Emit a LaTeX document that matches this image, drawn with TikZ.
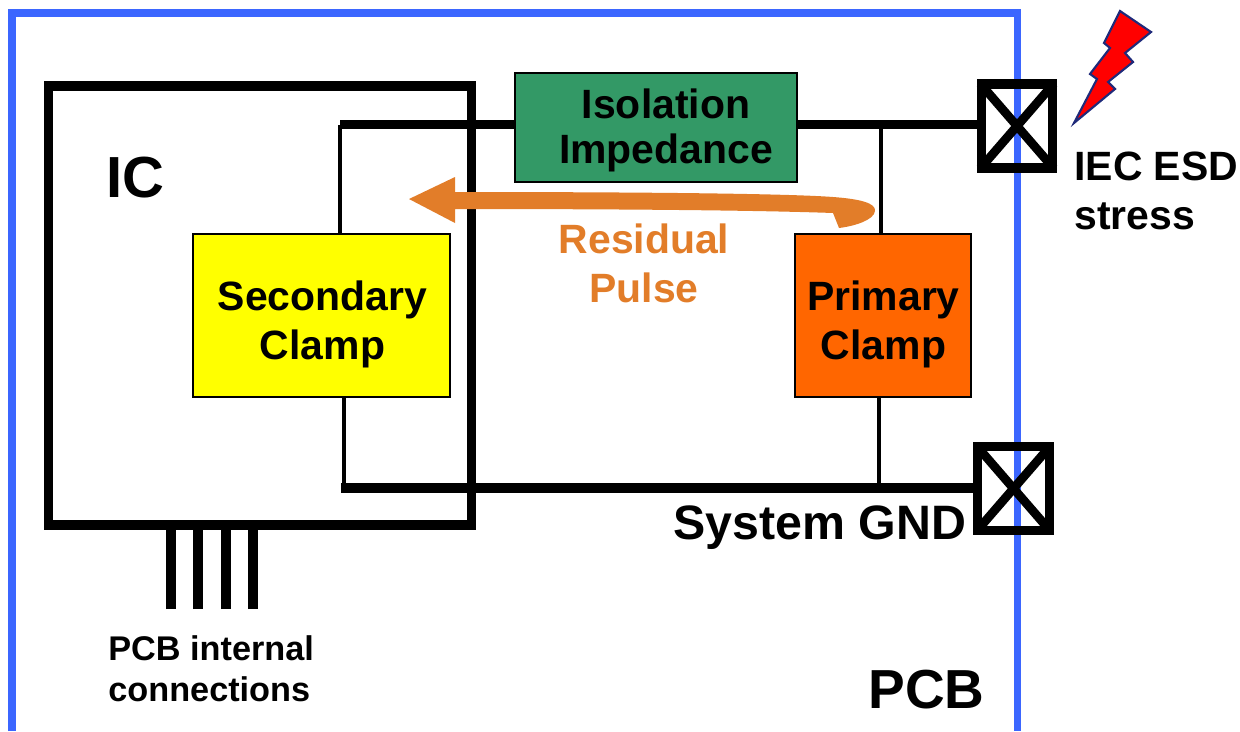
\documentclass[tikz,border=0pt]{standalone}
\usepackage{fontspec}
\setmainfont{Liberation Sans}
\usepackage{tikz}
\definecolor{pcbblue}{HTML}{3B66FF}
\definecolor{isogreen}{HTML}{339966}
\definecolor{secyellow}{HTML}{FFFF00}
\definecolor{primorange}{HTML}{FF6600}
\definecolor{pulseorange}{HTML}{E27D29}
\definecolor{boltnavy}{HTML}{1F2A7A}
\definecolor{boltred}{HTML}{FF0000}
\newcommand{\bigtext}{\fontsize{23.3}{27.9}\selectfont\bfseries}
\tikzstyle{block}=[draw=black,line width=1.4pt,inner sep=0pt]
\tikzstyle{label}=[inner sep=0pt,align=center,font=\bigtext]
\tikzstyle{pad}=[draw=black,line width=5.2pt,inner sep=0pt,minimum width=1.43cm,minimum height=1.68cm]
\tikzstyle{wire}=[draw=black,line width=5.2pt,-]
\tikzstyle{thin wire}=[draw=black,line width=2pt,-]
\tikzstyle{cross}=[draw=black,line width=5pt,-,shorten >=3pt,shorten <=3pt]
\begin{document}
\begin{tikzpicture}[x=0.02cm,y=-0.02cm]
        \useasboundingbox (0,0) rectangle (1240,731);
        %board outline, open at the bottom
        \coordinate (pcb a) at (12,731);
        \coordinate (pcb b) at (12,13);
        \coordinate (pcb c) at (1017,13);
        \coordinate (pcb d) at (1017,731);
        \draw[pcbblue,line width=4pt] (pcb a) -- (pcb b) -- (pcb c) -- (pcb d);
        \node[draw=black,line width=5.2pt,minimum width=8.46cm,minimum height=8.78cm,inner sep=0pt] (ic) at (260,305.5) {};
        \node[block,fill=isogreen,minimum width=5.64cm,minimum height=2.18cm] (iso) at (656,127.5) {};
        \node[block,fill=secyellow,minimum width=5.14cm,minimum height=3.26cm] (sec) at (321.5,315.5) {};
        \node[block,fill=primorange,minimum width=3.52cm,minimum height=3.26cm] (prim) at (883,315.5) {};
        \node[pad] (pad top) at (1017,126) {};
        \node[pad] (pad gnd) at (1013.5,488.5) {};
        \draw[cross] (pad top.north west) to (pad top.south east);
        \draw[cross] (pad top.north east) to (pad top.south west);
        \draw[cross] (pad gnd.north west) to (pad gnd.south east);
        \draw[cross] (pad gnd.north east) to (pad gnd.south west);
        %wires
        \coordinate (sec top) at (340,124.5);
        \coordinate (prim top) at (881,124.5);
        \coordinate (sec bot) at (344,488);
        \coordinate (prim bot) at (879,488);
        \coordinate (gnd start) at (341,488);
        \draw[wire] (sec top) to (sec top -| iso.west);
        \draw[wire] (sec top -| iso.east) to (sec top -| pad top.west);
        \draw[wire] (gnd start) to (gnd start -| pad gnd.west);
        \draw[thin wire] (sec top) to (sec top |- sec.north);
        \draw[thin wire] (prim top) to (prim top |- prim.north);
        \draw[thin wire] (sec bot) to (sec bot |- sec.south);
        \draw[thin wire] (prim bot) to (prim bot |- prim.south);
        \foreach \n/\x in {a/171,b/198,c/226,d/253} {
          \coordinate (pin \n) at (\x,609);
          \draw[wire] (pin \n) to (pin \n |- ic.south);
        }
        %residual pulse
        \coordinate (pulse tip) at (409,199);
        \fill[pulseorange] (pulse tip) -- (455,177) -- (455,192) .. controls (600,192) and (780,193) .. (833,197) .. controls (860,199) and (876,203) .. (875,211) .. controls (874,220) and (855,226) .. (839,228) -- (833,213) .. controls (750,210) and (600,209) .. (455,209) -- (455,223) -- cycle;
        %lightning
        \draw[draw=boltnavy,fill=boltred,line width=1.2pt,line join=miter] (1120,11) -- (1151,32) -- (1125,53) -- (1133,62) -- (1108,82) -- (1115,89) -- (1074,123) -- (1097,79) -- (1090,74) -- (1110,48) -- (1104,43) -- cycle;
        %labels
        \node[label,font=\fontsize{23.3}{25.6}\selectfont\bfseries] (iso text) at (666,130) {Isolation\\Impedance};
        \node[label] (sec text) at (322.5,324) {Secondary\\Clamp};
        \node[label] (prim text) at (883.5,324) {Primary\\Clamp};
        \node[label,font=\fontsize{33}{36}\selectfont\bfseries] (ic label) at (135,178) {IC};
        \node[label,anchor=west,align=left] (esd) at (1074,191) {IEC ESD\\stress};
        \node[label,text=pulseorange] (res) at (644,263.5) {Residual\\Pulse};
        \node[label,font=\fontsize{27.5}{30}\selectfont\bfseries] (gnd) at (820,528) {System GND};
        \node[label,font=\fontsize{31.3}{36}\selectfont\bfseries] (pcb) at (926.5,690) {PCB};
        \node[label,anchor=west,align=left,font=\fontsize{19.5}{23.3}\selectfont\bfseries] (conn) at (108,669) {PCB internal\\connections};
\end{tikzpicture}
\end{document}
